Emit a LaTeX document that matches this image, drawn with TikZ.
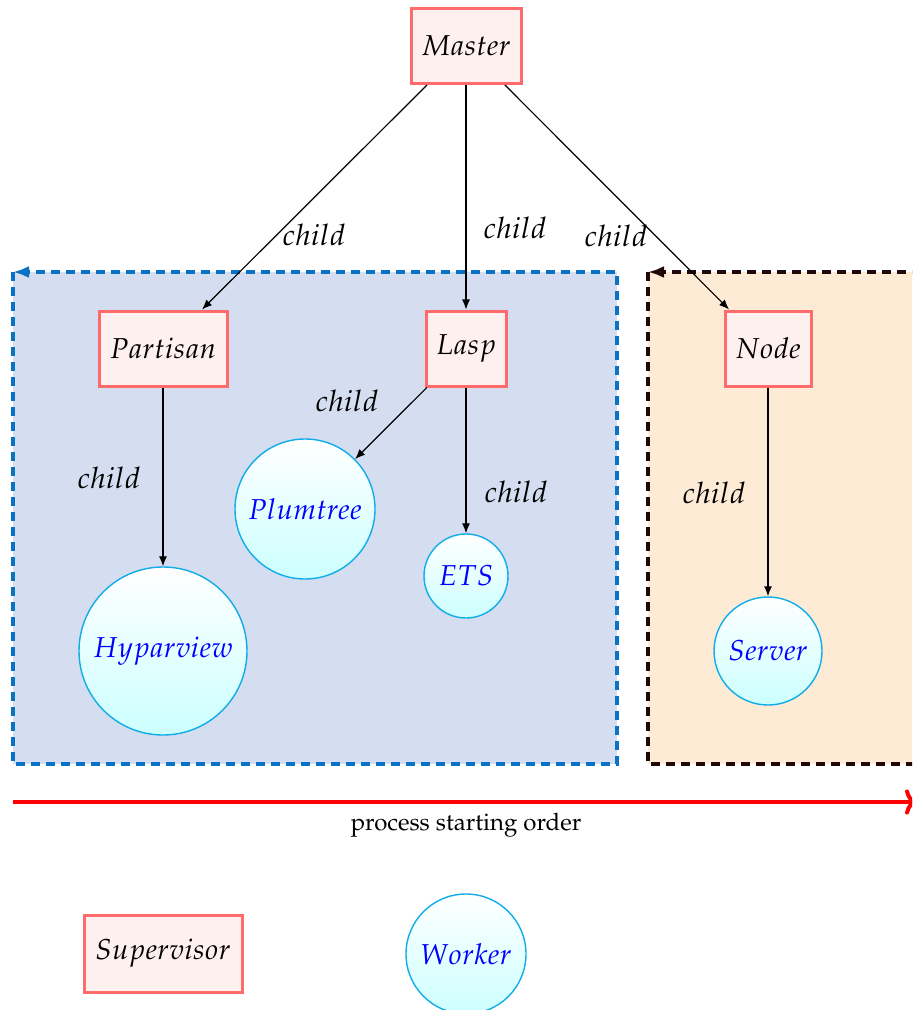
\documentclass[tikz,border=0pt]{standalone}
\usepackage[T1]{fontenc}
\usepackage{mathpazo}
\usetikzlibrary{arrows.meta}
\definecolor{supline}{HTML}{FF6B6B}
\definecolor{supfill}{HTML}{FFF0F0}
\definecolor{wrkline}{HTML}{12ACE8}
\definecolor{wrkfill}{HTML}{CCFFFF}
\definecolor{grpblue}{HTML}{D4DEF0}
\definecolor{grpblueline}{HTML}{0A72C4}
\definecolor{grporange}{HTML}{FDEBD6}
\definecolor{grpdark}{HTML}{200808}
\tikzset{
  supbox/.style={draw=supline, line width=1.5pt, fill=supfill,
    minimum height=37.5pt, inner sep=0pt, font=\fontsize{14.4}{16}\selectfont},
  wrk/.style={circle, draw=wrkline, line width=0.7pt, top color=white,
    bottom color=wrkfill, text=blue, inner sep=0pt, font=\fontsize{14.4}{16}\selectfont},
  link/.style={-{Latex[length=5pt,width=4pt]}, line width=0.6pt},
  lbl/.style={font=\fontsize{14.8}{16}\selectfont},
  grp/.style={line width=1.6pt, dash pattern=on 4.5pt off 3pt,
    -{Latex[length=8pt,width=6pt]}},
}
\begin{document}
\begin{tikzpicture}[x=0.5pt,y=-0.5pt]
\useasboundingbox (0,0) rectangle (912,1010);
\begin{scope}
\clip (0,0) rectangle (912,1010);
% process groups
\fill[grpblue] (13,272) rectangle (617,764);
\draw[grp, draw=grpblueline] (13,272) -- (13,764) -- (617,764) -- (617,272) -- (13,272);
\fill[grporange] (648,272) rectangle (1200,764);
\draw[grp, draw=grpdark] (648,272) -- (648,764) -- (1200,764) -- (1200,272) -- (648,272);
% starting order
\coordinate (ordA) at (13,802);
\coordinate (ordB) at (917,802);
\draw[red, line width=2pt, ->] (ordA) -- (ordB);
\end{scope}
\node (ordlbl) at (466,825) {\fontsize{12}{14}\selectfont process starting order};

% supervisors
\node[supbox, minimum width=55pt] (master) at (466,46) {$Master$};
\node[supbox, minimum width=64pt] (partisan) at (163,348.5) {$Partisan$};
\node[supbox, minimum width=40pt] (lasp) at (466,348.5) {$Lasp$};
\node[supbox, minimum width=43pt] (nodesup) at (768,348.5) {$Node$};

% workers
\node[wrk, minimum size=84pt] (hyparview) at (163,651) {$Hyparview$};
\node[wrk, minimum size=70pt] (plumtree) at (305,509) {$Plumtree$};
\node[wrk, minimum size=42pt] (ets) at (466,576) {$ETS$};
\node[wrk, minimum size=54pt] (server) at (768,651) {$Server$};

% supervision links
\draw[link] (master) -- (partisan);
\draw[link] (master) -- (lasp);
\draw[link] (master) -- (nodesup);
\draw[link] (partisan) -- (hyparview);
\draw[link] (lasp) -- (plumtree);
\draw[link] (lasp) -- (ets);
\draw[link] (nodesup) -- (server);

\node[lbl] (l1) at (314,235) {$child$};
\node[lbl] (l2) at (515,228) {$child$};
\node[lbl] (l3) at (616,236) {$child$};
\node[lbl] (l4) at (109,478) {$child$};
\node[lbl] (l5) at (347,401) {$child$};
\node[lbl] (l6) at (516,492) {$child$};
\node[lbl] (l7) at (714,493) {$child$};

% legend
\node[supbox, minimum width=79pt, minimum height=38.5pt] (legsup) at (163,953.5) {$Supervisor$};
\node[wrk, minimum size=60pt] (legwrk) at (466,954) {$Worker$};
\end{tikzpicture}
\end{document}
